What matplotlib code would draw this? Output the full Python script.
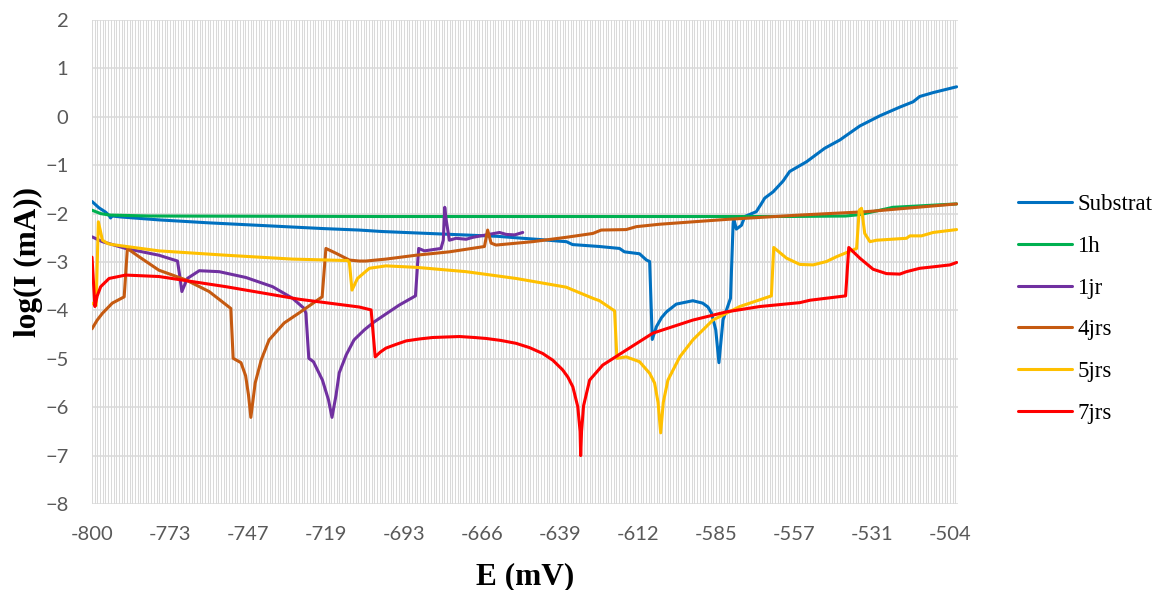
import matplotlib
matplotlib.use("Agg")
import matplotlib.pyplot as plt
import numpy as np

# ---- data -------------------------------------------------------------
tick_labels = ["-800", "-773", "-747", "-719", "-693", "-666",
               "-639", "-612", "-585", "-557", "-531", "-504"]

substrat_E = [-800, -797.6, -795.3, -794.1, -793.6, -793.0, -790, -776.9, -760, -740,
              -720, -707.8, -700, -680, -660, -651.4, -644.5, -638.7, -636.3, -634.2,
              -624.9, -618.0, -616.3, -611.1, -608.7, -607.6, -606.7, -605.3, -603.5,
              -601.8, -598.4, -592.7, -589.3, -587.5, -586.3, -584.8, -583.7, -582.3,
              -579.7, -578.8, -578.6, -577.7, -575.9, -574.8, -570.8, -569.0, -567.9,
              -565.0, -561.6, -559.3, -553.5, -547.2, -542.0, -535.1, -528.2, -521.3,
              -516.7, -514.4, -509.8, -501.7]
substrat_I = [-1.75, -1.88, -1.97, -2.04, -2.09, -2.05, -2.07, -2.13, -2.19, -2.25,
              -2.31, -2.34, -2.37, -2.42, -2.47, -2.51, -2.54, -2.57, -2.58, -2.64,
              -2.68, -2.72, -2.79, -2.83, -2.96, -2.99, -4.60, -4.34, -4.15,
              -4.03, -3.87, -3.80, -3.85, -3.93, -4.05, -4.40, -5.08, -4.20,
              -3.75, -2.20, -2.10, -2.32, -2.24, -2.06, -1.96, -1.79, -1.68,
              -1.55, -1.33, -1.13, -0.93, -0.65, -0.48, -0.19, 0.02, 0.20,
              0.31, 0.42, 0.50, 0.62]

h1_E = [-800, -797, -794, -780, -700, -600, -560, -540, -535.0, -530.5, -525.9, -523.7, -501.7]
h1_I = [-1.93, -2.00, -2.03, -2.05, -2.06, -2.06, -2.06, -2.05, -2.02, -1.96, -1.90, -1.87, -1.80]

jr1_E = [-800, -796.4, -788.4, -776.9, -770.5, -769.7, -769.0, -767.1, -763.0, -756.1,
         -746.9, -737.7, -730.8, -726.8, -726.2, -725.2, -723.6, -720.5, -718.4, -717.2,
         -715.8, -714.7, -712.3, -709.6, -706.0, -702.7, -698.0, -694.0, -688.4, -687.3,
         -685.3, -679.6, -678.8, -678.3, -677.8, -676.7, -674.4, -670.9, -668.6, -664.0,
         -659.4, -657.1, -654.2, -651.4]
jr1_I = [-2.48, -2.58, -2.72, -2.86, -2.98, -3.30, -3.61, -3.34, -3.18, -3.20,
         -3.32, -3.51, -3.75, -3.96, -4.06, -4.99, -5.06, -5.44, -5.85, -6.21,
         -5.75, -5.29, -4.92, -4.61, -4.40, -4.24, -4.05, -3.89, -3.70, -2.72,
         -2.77, -2.72, -2.55, -1.87, -2.13, -2.55, -2.51, -2.53, -2.49, -2.44,
         -2.39, -2.43, -2.44, -2.39]

jrs4_E = [-800, -798.2, -796.4, -793.0, -788.9, -787.8, -783.8, -776.9, -767.6, -759.6,
          -752.1, -751.3, -748.6, -747.0, -746.0, -745.2, -743.7, -741.6, -738.9, -733.7,
          -728.5, -720.6, -719.3, -715.8, -711.2, -707.8, -705.5, -698.6, -688.2, -676.7,
          -664.6, -663.5, -662.3, -660.6, -648.0, -636.4, -627.2, -624.3, -615.7, -612.2,
          -604.2, -592.7, -581.1, -555.8, -532.8, -501.7]
jrs4_I = [-4.38, -4.20, -4.06, -3.85, -3.72, -2.72, -2.89, -3.17, -3.37, -3.61,
          -3.96, -4.99, -5.08, -5.35, -5.75, -6.21, -5.50, -5.02, -4.61, -4.26,
          -4.05, -3.72, -2.72, -2.82, -2.96, -2.98, -2.98, -2.94, -2.86, -2.79,
          -2.68, -2.34, -2.61, -2.65, -2.58, -2.49, -2.41, -2.34, -2.33, -2.27,
          -2.22, -2.17, -2.12, -2.03, -1.96, -1.80]

jrs5_E = [-800, -798.6, -797.8, -796.4, -794.5, -793.0, -776.9, -753.8, -730.8, -711.8,
          -711.2, -710.3, -708.4, -704.3, -698.6, -688.2, -670.9, -653.7, -636.4, -627.2,
          -624.9, -619.7, -618.9, -615.7, -611.1, -607.6, -605.9, -604.7, -603.8, -602.9,
          -601.3, -597.2, -592.7, -585.8, -576.5, -565.6, -564.8, -561.6, -560.4, -555.8,
          -551.2, -546.6, -543.1, -536.2, -535.3, -534.5, -533.4, -531.6, -529.3, -519.0,
          -517.8, -513.8, -509.8, -501.7]
jrs5_I = [-3.85, -3.90, -2.17, -2.55, -2.62, -2.64, -2.77, -2.86, -2.94, -2.97,
          -3.01, -3.58, -3.34, -3.13, -3.08, -3.11, -3.20, -3.34, -3.52, -3.75,
          -3.80, -4.01, -4.99, -4.96, -5.06, -5.30, -5.50, -5.90, -6.53, -5.90,
          -5.44, -4.96, -4.61, -4.20, -3.92, -3.70, -2.70, -2.86, -2.92, -3.05,
          -3.06, -2.99, -2.89, -2.72, -1.93, -1.89, -2.41, -2.58, -2.55, -2.51,
          -2.46, -2.46, -2.39, -2.33]

jrs7_E = [-800, -799.0, -798.2, -797.0, -794.1, -788.4, -776.9, -753.8, -728.5, -707.8,
          -703.7, -702.3, -700.5, -698.6, -695.0, -691.6, -687.0, -682.5, -678.0, -673.2,
          -668.0, -664.0, -659.0, -653.7, -649.0, -644.5, -641.0, -637.6, -635.8, -634.1,
          -632.4, -631.6, -631.4, -631.1, -630.4, -628.3, -623.8, -615.7, -606.5, -592.7,
          -581.1, -569.6, -555.8, -552.3, -540.0, -538.9, -535.1, -530.5, -525.9, -521.3,
          -519.0, -514.4, -509.8, -504.0, -501.7]
jrs7_I = [-2.90, -3.92, -3.70, -3.51, -3.34, -3.27, -3.30, -3.51, -3.77, -3.93,
          -3.99, -4.96, -4.86, -4.78, -4.70, -4.63, -4.59, -4.56, -4.55, -4.54,
          -4.56, -4.58, -4.62, -4.68, -4.77, -4.89, -5.03, -5.23, -5.38, -5.58,
          -5.99, -6.50, -7.00, -6.50, -5.97, -5.44, -5.13, -4.82, -4.47, -4.20,
          -4.03, -3.92, -3.84, -3.79, -3.70, -2.70, -2.92, -3.15, -3.24, -3.25,
          -3.20, -3.13, -3.10, -3.06, -3.01]

series = [
    ("Substrat", substrat_E, substrat_I, "#0070C0"),
    ("1h", h1_E, h1_I, "#00B050"),
    ("1jr", jr1_E, jr1_I, "#7030A0"),
    ("4jrs", jrs4_E, jrs4_I, "#C55A11"),
    ("5jrs", jrs5_E, jrs5_I, "#FFC000"),
    ("7jrs", jrs7_E, jrs7_I, "#FF0000"),
]

# ---- category axis layout (one gridline per measured point) -----------
cats_per_label = 29
n_cats = 323
span = -504 - (-800)
step = span / (cats_per_label * (len(tick_labels) - 1))
cat_pos = -800 + np.arange(n_cats) * step
tick_pos = cat_pos[::cats_per_label][:len(tick_labels)]

# ---- figure ----------------------------------------------------------
fig = plt.figure(figsize=(11.62, 5.90), dpi=100)
ax = fig.add_axes([92 / 1162, 1 - 504 / 590, 866 / 1162, 484 / 590])

for xv in cat_pos:
    ax.axvline(xv, color="#D9D9D9", lw=0.75, zorder=0)
for yv in range(-8, 3):
    ax.axhline(yv, color="#D9D9D9", lw=1.1, zorder=0.5)

handles = []
for name, ex, iy, col in series:
    ln, = ax.plot(ex, iy, color=col, lw=2.2, label=name, zorder=2,
                  solid_joinstyle="round", solid_capstyle="round")
    handles.append(ln)

ax.set_xlim(cat_pos[0], cat_pos[-1])
ax.set_ylim(-8, 2)
ax.set_yticks(range(-8, 3))
ax.set_xticks(tick_pos)
ax.set_xticklabels(tick_labels)
for s in ax.spines.values():
    s.set_visible(False)
ax.tick_params(axis="both", length=0, labelcolor="#595959", labelsize=14.5)
ax.tick_params(axis="y", pad=17)
ax.tick_params(axis="x", pad=16)
for lab in ax.get_xticklabels() + ax.get_yticklabels():
    lab.set_fontfamily("Lato")

fig.text(525 / 1162, 1 - 577 / 590, "E (mV)", ha="center", va="center",
         fontsize=22.5, fontweight="bold", family="Liberation Serif")
fig.text(28 / 1162, 1 - 262 / 590, "log(I (mA))", ha="center", va="center",
         rotation=90, fontsize=22.5, fontweight="bold", family="Liberation Serif")

leg = fig.legend(handles=handles, loc="center left",
                 bbox_to_anchor=(1018 / 1162, 1 - 309 / 590),
                 frameon=False, borderpad=0, borderaxespad=0,
                 handlelength=2.36, handletextpad=0.22, labelspacing=0.9,
                 prop={"family": "Liberation Serif", "size": 16.5})

fig.savefig("out.png", dpi=100)
